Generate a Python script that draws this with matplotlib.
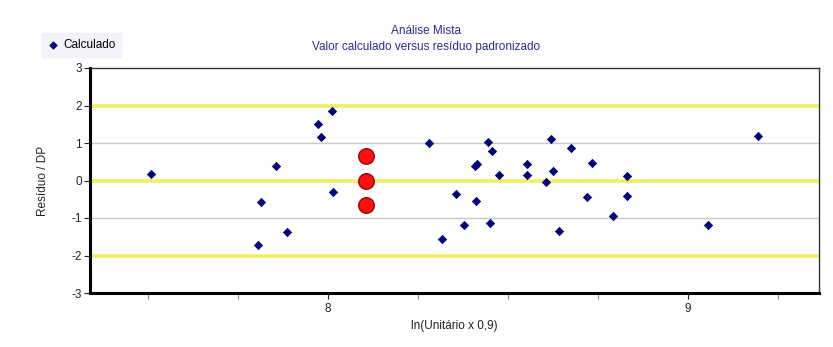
import matplotlib.pyplot as plt
from matplotlib.ticker import MultipleLocator, FixedLocator

plt.rcParams['font.family'] = ['Liberation Sans', 'DejaVu Sans']
plt.rcParams['axes.unicode_minus'] = False

# residuos padronizados (calculado)
calc_x = [7.508, 7.856, 7.814, 7.887, 7.806, 8.010, 7.971, 7.982, 8.015,
          8.280, 8.316, 8.357, 8.379, 8.409, 8.415, 8.411, 8.444, 8.456,
          8.451, 8.474, 8.554, 8.554, 8.606, 8.620, 8.624, 8.643, 8.676,
          8.734, 8.832, 8.720, 8.832, 8.793, 9.057, 9.194]
calc_y = [0.18, 0.39, -0.56, -1.38, -1.72, 1.85, 1.50, 1.17, -0.31,
          1.00, -1.56, -0.35, -1.19, 0.40, 0.43, -0.55, 1.03, 0.78,
          -1.12, 0.15, 0.43, 0.15, -0.03, 1.10, 0.25, -1.34, 0.86,
          0.47, 0.11, -0.45, -0.41, -0.94, -1.19, 1.18]

# ponto avaliado
aval_x = [8.106, 8.106, 8.106]
aval_y = [0.66, 0.0, -0.66]

yellow_levels = [-2, 0, 2]
grey_levels = [-1, 1]

fig = plt.figure(figsize=(8.33, 3.47), dpi=100)
ax = fig.add_axes([90/833, 1 - 293/347, (819-90)/833, (293-68)/347])

for lv in grey_levels:
    ax.axhline(lv, color='#c8c8c8', linewidth=1.0, zorder=1)
for lv in yellow_levels:
    ax.axhline(lv, color='#f0f060', linewidth=2.6, zorder=1)

ax.scatter(calc_x, calc_y, marker='D', s=18, color='#000080',
           edgecolors='#000060', linewidths=0.5, zorder=3, label='Calculado')
ax.scatter(aval_x, aval_y, marker='o', s=125, color='#ff1010',
           edgecolors='#a00000', linewidths=1.0, zorder=4)

ax.set_xlim(7.339, 9.364)
ax.set_ylim(-3, 3)
ax.yaxis.set_major_locator(MultipleLocator(1))
ax.xaxis.set_major_locator(FixedLocator([8, 9]))
ax.xaxis.set_minor_locator(MultipleLocator(0.25))
ax.tick_params(axis='both', labelsize=8.5, length=4, width=0.8,
               colors='#222222', direction='out')
ax.tick_params(axis='x', which='minor', length=4, width=0.8, color='#888888')
ax.tick_params(axis='x', pad=3)
ax.tick_params(axis='y', pad=2)

for side in ['left', 'bottom']:
    ax.spines[side].set_linewidth(2.2)
    ax.spines[side].set_color('#000000')
for side in ['top', 'right']:
    ax.spines[side].set_linewidth(1.0)
    ax.spines[side].set_color('#333333')

ax.set_xlabel('ln(Unitário x 0,9)', fontsize=8.5, color='#222222', labelpad=4)
ax.set_ylabel('Resíduo / DP', fontsize=8.5, color='#222222', labelpad=16)

fig.text(0.512, 1 - 31/347, 'Análise Mista', ha='center', va='center',
         fontsize=8.5, color='#2a2a9a')
fig.text(0.512, 1 - 47/347, 'Valor calculado versus resíduo padronizado',
         ha='center', va='center', fontsize=8.5, color='#2a2a9a')

leg = fig.legend(loc='center left', bbox_to_anchor=(36/833, 1 - 45/347),
                 fontsize=8.5, frameon=True, handletextpad=0.5,
                 borderpad=0.5, handlelength=0.8, markerscale=0.9)
leg.get_frame().set_facecolor('#f0f0f8')
leg.get_frame().set_edgecolor('#f0f0f8')
leg.get_frame().set_boxstyle('square', pad=0.0)

fig.savefig('out.png', dpi=100)
